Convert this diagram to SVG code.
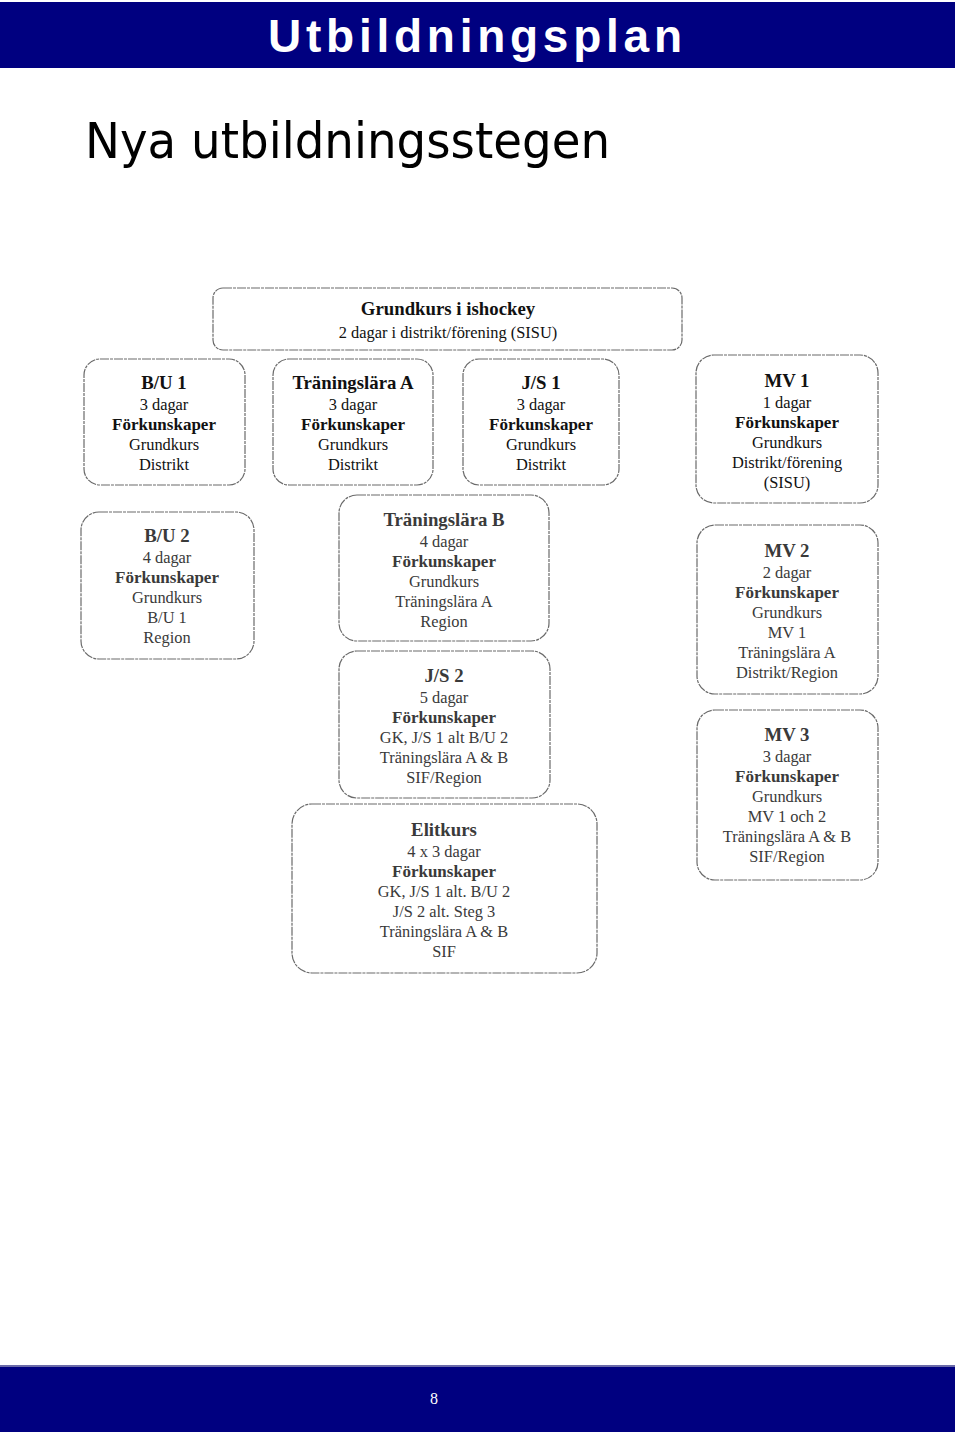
<svg xmlns="http://www.w3.org/2000/svg" width="960" height="1436" viewBox="0 0 960 1436">
<style>
.bar{fill:#000080}
.box{fill:#fff;stroke:#6a6a6a;stroke-width:1.2;stroke-dasharray:9 1 3 1}
.t{font-family:"Liberation Serif","Times New Roman",serif;font-size:16.4px;text-anchor:middle;fill:#111}
.g{fill:#3a3a3a}
.b{font-weight:bold;font-size:17px}
.h{font-size:18.8px}
</style>
<rect class="bar" x="0" y="2" width="955" height="66"/>
<text x="475" y="52" font-family="Liberation Sans,Arial,sans-serif" font-weight="bold" font-size="46" fill="#fff" text-anchor="middle" textLength="414" lengthAdjust="spacing">Utbildningsplan</text>
<text x="85" y="158" font-family="DejaVu Sans,Verdana,sans-serif" font-size="50" fill="#000" textLength="525" lengthAdjust="spacingAndGlyphs">Nya utbildningsstegen</text>

<g id="grundkurs">
<rect class="box" x="213" y="288" width="469" height="62" rx="10"/>
<text class="t b h" x="448" y="315">Grundkurs i ishockey</text>
<text class="t" x="448" y="338">2 dagar i distrikt/förening (SISU)</text>
</g>
<g id="bu1">
<rect class="box" x="84" y="359" width="161" height="126" rx="16"/>
<text class="t" x="164" y="389"><tspan class="b h">B/U 1</tspan><tspan x="164" dy="20.5">3 dagar</tspan><tspan x="164" dy="20" class="b">Förkunskaper</tspan><tspan x="164" dy="20">Grundkurs</tspan><tspan x="164" dy="20">Distrikt</tspan></text>
</g>
<g id="tla">
<rect class="box" x="273" y="359" width="160" height="126" rx="16"/>
<text class="t" x="353" y="389"><tspan class="b h">Träningslära A</tspan><tspan x="353" dy="20.5">3 dagar</tspan><tspan x="353" dy="20" class="b">Förkunskaper</tspan><tspan x="353" dy="20">Grundkurs</tspan><tspan x="353" dy="20">Distrikt</tspan></text>
</g>
<g id="js1">
<rect class="box" x="463" y="359" width="156" height="126" rx="16"/>
<text class="t" x="541" y="389"><tspan class="b h">J/S 1</tspan><tspan x="541" dy="20.5">3 dagar</tspan><tspan x="541" dy="20" class="b">Förkunskaper</tspan><tspan x="541" dy="20">Grundkurs</tspan><tspan x="541" dy="20">Distrikt</tspan></text>
</g>
<g id="mv1">
<rect class="box" x="696" y="355" width="182" height="148" rx="18"/>
<text class="t" x="787" y="387"><tspan class="b h">MV 1</tspan><tspan x="787" dy="20.5">1 dagar</tspan><tspan x="787" dy="20" class="b">Förkunskaper</tspan><tspan x="787" dy="20">Grundkurs</tspan><tspan x="787" dy="20">Distrikt/förening</tspan><tspan x="787" dy="20">(SISU)</tspan></text>
</g>
<g id="bu2">
<rect class="box" x="81" y="512" width="173" height="147" rx="18"/>
<text class="t g" x="167" y="542"><tspan class="b h">B/U 2</tspan><tspan x="167" dy="21">4 dagar</tspan><tspan x="167" dy="20" class="b">Förkunskaper</tspan><tspan x="167" dy="20">Grundkurs</tspan><tspan x="167" dy="20">B/U 1</tspan><tspan x="167" dy="20">Region</tspan></text>
</g>
<g id="tlb">
<rect class="box" x="339" y="495" width="210" height="146" rx="18"/>
<text class="t g" x="444" y="526"><tspan class="b h">Träningslära B</tspan><tspan x="444" dy="21">4 dagar</tspan><tspan x="444" dy="20" class="b">Förkunskaper</tspan><tspan x="444" dy="20">Grundkurs</tspan><tspan x="444" dy="20">Träningslära A</tspan><tspan x="444" dy="20">Region</tspan></text>
</g>
<g id="mv2">
<rect class="box" x="697" y="525" width="181" height="169" rx="18"/>
<text class="t g" x="787" y="557"><tspan class="b h">MV 2</tspan><tspan x="787" dy="21">2 dagar</tspan><tspan x="787" dy="20" class="b">Förkunskaper</tspan><tspan x="787" dy="20">Grundkurs</tspan><tspan x="787" dy="20">MV 1</tspan><tspan x="787" dy="20">Träningslära A</tspan><tspan x="787" dy="20">Distrikt/Region</tspan></text>
</g>
<g id="js2">
<rect class="box" x="339" y="651" width="211" height="147" rx="18"/>
<text class="t g" x="444" y="682"><tspan class="b h">J/S 2</tspan><tspan x="444" dy="21">5 dagar</tspan><tspan x="444" dy="20" class="b">Förkunskaper</tspan><tspan x="444" dy="20">GK, J/S 1 alt B/U 2</tspan><tspan x="444" dy="20">Träningslära A &amp; B</tspan><tspan x="444" dy="20">SIF/Region</tspan></text>
</g>
<g id="mv3">
<rect class="box" x="697" y="710" width="181" height="170" rx="18"/>
<text class="t g" x="787" y="741"><tspan class="b h">MV 3</tspan><tspan x="787" dy="21">3 dagar</tspan><tspan x="787" dy="20" class="b">Förkunskaper</tspan><tspan x="787" dy="20">Grundkurs</tspan><tspan x="787" dy="20">MV 1 och 2</tspan><tspan x="787" dy="20">Träningslära A &amp; B</tspan><tspan x="787" dy="20">SIF/Region</tspan></text>
</g>
<g id="elitkurs">
<rect class="box" x="292" y="804" width="305" height="169" rx="20"/>
<text class="t g" x="444" y="836"><tspan class="b h">Elitkurs</tspan><tspan x="444" dy="21">4 x 3 dagar</tspan><tspan x="444" dy="20" class="b">Förkunskaper</tspan><tspan x="444" dy="20">GK, J/S 1 alt. B/U 2</tspan><tspan x="444" dy="20">J/S 2 alt. Steg 3</tspan><tspan x="444" dy="20">Träningslära A &amp; B</tspan><tspan x="444" dy="20">SIF</tspan></text>
</g>
<g id="connectors"></g>

<rect class="bar" x="0" y="1366" width="955" height="66"/>
<rect x="0" y="1365" width="955" height="2" fill="#6a6aa8"/>
<text x="434" y="1404" font-family="Liberation Serif,serif" font-size="16" fill="#fff" text-anchor="middle">8</text>
</svg>
